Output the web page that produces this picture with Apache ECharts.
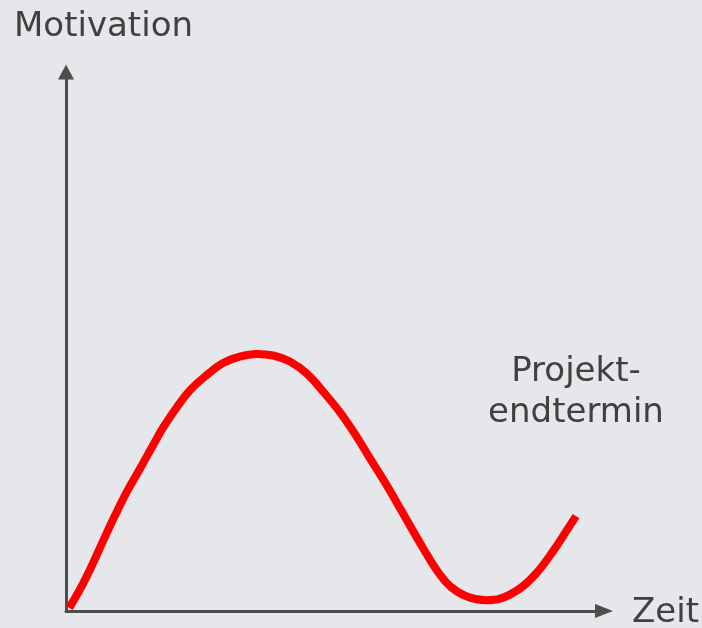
<!DOCTYPE html>
<html>
<head>
<meta charset="utf-8">
<script src="https://cdn.jsdelivr.net/npm/echarts@6/dist/echarts.min.js"></script>
<style>
  html, body { margin: 0; padding: 0; background: #e6e7eb; }
  #main { width: 702px; height: 628px; }
</style>
</head>
<body>
<div id="main"></div>
<script>
// Zeit (x) und Motivation (y), beide 0..100
var zeit = [0.6, 2.6, 4.8, 6.9, 9.1, 11.3, 13.8, 16.1, 18.1, 20.6, 23.1, 26.2, 29.2, 32.3, 35.5, 38.5,
    41.6, 44.7, 47.8, 50.9, 54.0, 56.5, 59.2, 61.5, 63.9, 66.4, 68.9, 71.4, 74.5, 78.1, 80.7, 84.4,
    87.5, 90.6, 93.1, 94.8];
var motivation = [0.6, 4.0, 8.4, 13.0, 17.7, 22.1, 26.5, 30.6, 34.1, 37.8, 41.0, 43.8, 46.0, 47.2, 47.7, 47.4,
    46.3, 44.1, 40.7, 36.9, 32.4, 28.3, 24.0, 20.1, 15.9, 11.6, 7.6, 4.6, 2.7, 2.0, 2.3, 4.2,
    7.1, 11.2, 15.0, 17.6];
var yName = 'Motivation';
var xName = 'Zeit';
var noteLines = ['Projekt-', 'endtermin'];

var textColor = '#404040';
var axisColor = '#4d4d4d';
var font = '"DejaVu Sans", Verdana, sans-serif';

var myChart = echarts.init(document.getElementById('main'), null, { renderer: 'canvas' });

var points = zeit.map(function (x, i) {
    return [x, motivation[i]];
});

option = {
    backgroundColor: '#e6e7eb',
    animation: false,
    grid: {
        left: 66,
        top: 72,
        right: 98,
        bottom: 17
    },
    xAxis: {
        type: 'value',
        min: 0,
        max: 100,
        splitLine: { show: false },
        axisTick: { show: false },
        axisLabel: { show: false },
        axisLine: {
            show: true,
            symbol: ['none', 'triangle'],
            symbolSize: [14, 18],
            lineStyle: { color: axisColor, width: 3 }
        }
    },
    yAxis: {
        type: 'value',
        min: 0,
        max: 100,
        splitLine: { show: false },
        axisTick: { show: false },
        axisLabel: { show: false },
        axisLine: {
            show: true,
            symbol: ['none', 'triangle'],
            symbolSize: [16, 15],
            lineStyle: { color: axisColor, width: 3 }
        }
    },
    graphic: [
        {
            type: 'text', left: 14, top: 10,
            style: { text: yName, fill: textColor, font: '34px ' + font }
        },
        {
            type: 'text', left: 632, top: 596,
            style: { text: xName, fill: textColor, font: '34px ' + font }
        },
        {
            type: 'text', x: 576, y: 352,
            style: {
                text: noteLines.join('\n'), fill: textColor, font: '34px ' + font,
                align: 'center', lineHeight: 41
            }
        }
    ],
    series: [{
        type: 'line',
        data: points,
        smooth: 0.4,
        showSymbol: false,
        symbol: 'none',
        lineStyle: { color: '#ff0000', width: 8, cap: 'butt', join: 'round' }
    }]
};
myChart.setOption(option);
</script>
</body>
</html>
